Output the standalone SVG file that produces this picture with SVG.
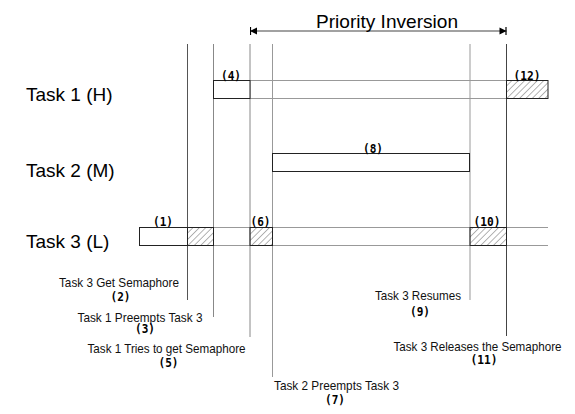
<svg xmlns="http://www.w3.org/2000/svg" width="575" height="414" viewBox="0 0 575 414">
<defs>
<pattern id="hatch" patternUnits="userSpaceOnUse" width="4.5" height="4.5" patternTransform="rotate(45)">
<line x1="0" y1="0" x2="0" y2="4.5" stroke="#444" stroke-width="0.8"/>
</pattern>
<marker id="headL" markerWidth="10" markerHeight="10" refX="0" refY="5" orient="auto" markerUnits="userSpaceOnUse">
<path d="M0,5 L7,1.5 L7,8.5 Z" fill="#000"/>
<line x1="0.5" y1="1" x2="0.5" y2="9" stroke="#000" stroke-width="1.2"/>
</marker>
<marker id="headR" markerWidth="10" markerHeight="10" refX="8" refY="5" orient="auto" markerUnits="userSpaceOnUse">
<path d="M8,5 L1,1.5 L1,8.5 Z" fill="#000"/>
<line x1="7.5" y1="1" x2="7.5" y2="9" stroke="#000" stroke-width="1.2"/>
</marker>
</defs>
<style>
.task{font-family:"Liberation Sans",Arial,sans-serif;font-size:19px;fill:#000}
.title{font-family:"Liberation Sans",Arial,sans-serif;font-size:19px;fill:#000}
.num{font-family:"DejaVu Sans Mono","Liberation Mono",monospace;font-size:13px;font-weight:bold;fill:#000;text-anchor:middle}
.note{font-family:"Liberation Sans",Arial,sans-serif;font-size:13px;fill:#111}
.box{fill:#fff;stroke:#222;stroke-width:1}
.hbox{fill:url(#hatch);stroke:#222;stroke-width:1}
.rail{stroke:#999;stroke-width:1;fill:none}
.vline{stroke-width:1;fill:none}
</style>
<rect width="575" height="414" fill="#fff"/>

<g id="connectors">
<line class="vline" x1="187.5" y1="44" x2="187.5" y2="300" stroke="#555"/>
<line class="vline" x1="213.5" y1="44" x2="213.5" y2="317" stroke="#888"/>
<line class="vline" x1="250" y1="44" x2="250" y2="337" stroke="#888"/>
<line class="vline" x1="272.5" y1="44" x2="272.5" y2="377" stroke="#999"/>
<line class="vline" x1="470" y1="44" x2="470" y2="300" stroke="#999"/>
<line class="vline" x1="506.5" y1="44" x2="506.5" y2="336" stroke="#444"/>
<line x1="250" y1="31" x2="506.5" y2="31" stroke="#444" stroke-width="1.2" marker-start="url(#headL)" marker-end="url(#headR)"/>
<line class="rail" x1="250" y1="80.5" x2="506.5" y2="80.5"/>
<line class="rail" x1="250" y1="98.5" x2="506.5" y2="98.5"/>
<line class="rail" x1="187.5" y1="227.5" x2="548" y2="227.5"/>
<line class="rail" x1="187.5" y1="245.5" x2="548" y2="245.5"/>
</g>

<g id="title"><text class="title" x="387" y="28" text-anchor="middle" textLength="142" lengthAdjust="spacingAndGlyphs">Priority Inversion</text></g>

<g id="task1-label"><text class="task" x="26" y="100.5">Task 1 (H)</text></g>
<g id="task2-label"><text class="task" x="26" y="176.5">Task 2 (M)</text></g>
<g id="task3-label"><text class="task" x="26" y="247.5">Task 3 (L)</text></g>

<g id="n4"><rect class="box" x="213.5" y="80.5" width="36.5" height="18"/><text class="num" x="231" y="80" textLength="20" lengthAdjust="spacingAndGlyphs">(4)</text></g>
<g id="n12"><rect class="hbox" x="506.5" y="80.5" width="41.5" height="18"/><text class="num" x="527" y="80" textLength="27" lengthAdjust="spacingAndGlyphs">(12)</text></g>
<g id="n8"><rect class="box" x="272.5" y="153.5" width="197" height="18"/><text class="num" x="373" y="153" textLength="20" lengthAdjust="spacingAndGlyphs">(8)</text></g>
<g id="n1"><rect class="box" x="139.5" y="227.5" width="48" height="18"/><text class="num" x="163" y="226" textLength="20" lengthAdjust="spacingAndGlyphs">(1)</text></g>
<g id="n1b"><rect class="hbox" x="187.5" y="227.5" width="26" height="18"/></g>
<g id="n6"><rect class="hbox" x="250" y="227.5" width="22.5" height="18"/><text class="num" x="260.5" y="226" textLength="20" lengthAdjust="spacingAndGlyphs">(6)</text></g>
<g id="n10"><rect class="hbox" x="470" y="227.5" width="36.5" height="18"/><text class="num" x="487" y="226" textLength="27" lengthAdjust="spacingAndGlyphs">(10)</text></g>

<g id="e2"><text class="note" x="59" y="286.5" textLength="120" lengthAdjust="spacingAndGlyphs">Task 3 Get Semaphore</text><text class="num" x="120.5" y="301" textLength="20" lengthAdjust="spacingAndGlyphs">(2)</text></g>
<g id="e3"><text class="note" x="77.5" y="321.5" textLength="125" lengthAdjust="spacingAndGlyphs">Task 1 Preempts Task 3</text><text class="num" x="145" y="333" textLength="20" lengthAdjust="spacingAndGlyphs">(3)</text></g>
<g id="e5"><text class="note" x="87.5" y="352.5" textLength="158" lengthAdjust="spacingAndGlyphs">Task 1 Tries to get Semaphore</text><text class="num" x="168.5" y="366.5" textLength="20" lengthAdjust="spacingAndGlyphs">(5)</text></g>
<g id="e7"><text class="note" x="274" y="390" textLength="125" lengthAdjust="spacingAndGlyphs">Task 2 Preempts Task 3</text><text class="num" x="335" y="404" textLength="20" lengthAdjust="spacingAndGlyphs">(7)</text></g>
<g id="e9"><text class="note" x="375" y="300" textLength="86" lengthAdjust="spacingAndGlyphs">Task 3 Resumes</text><text class="num" x="420" y="315.5" textLength="20" lengthAdjust="spacingAndGlyphs">(9)</text></g>
<g id="e11"><text class="note" x="393.5" y="350.5" textLength="168" lengthAdjust="spacingAndGlyphs">Task 3 Releases the Semaphore</text><text class="num" x="484" y="364" textLength="27" lengthAdjust="spacingAndGlyphs">(11)</text></g>
</svg>
